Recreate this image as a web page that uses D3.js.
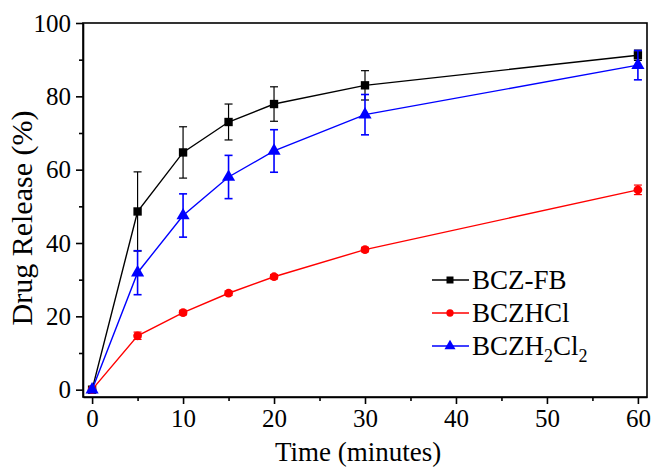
<!DOCTYPE html>
<html>
<head>
<meta charset="utf-8">
<script src="https://cdn.jsdelivr.net/npm/d3@7"></script>
<style>
  body { margin: 0; background: #fff; }
  text { font-family: "Liberation Serif", "Times New Roman", serif; fill: #000; }
</style>
</head>
<body>
<div class="chart"></div>
<script>
// time points (minutes)
const times = [0, 5, 10, 15, 20, 30, 60];

// drug release (%) and error (sd) for each formulation
const fbValues = [0, 48.6, 64.7, 73.0, 77.9, 83.0, 91.2];
const fbErrors = [0, 10.8, 7.0, 4.9, 4.7, 4.0, 1.4];
const hclValues = [0, 14.7, 21.0, 26.3, 30.8, 38.2, 54.5];
const hclErrors = [0, 1.0, 0.6, 0.6, 0.6, 0.6, 1.3];
const h2cl2Values = [0, 31.9, 47.5, 58.0, 65.1, 75.0, 88.5];
const h2cl2Errors = [0, 6.0, 5.9, 5.9, 5.8, 5.5, 4.0];

const xTicks = [0, 10, 20, 30, 40, 50, 60];
const yTicks = [0, 20, 40, 60, 80, 100];

const width = 653, height = 467;
const margin = { top: 23, right: 6, bottom: 70, left: 83 };
const plotW = width - margin.left - margin.right;
const plotH = height - margin.top - margin.bottom;

const svg = d3.select(".chart").append("svg")
    .attr("width", width)
    .attr("height", height);

const g = svg.append("g")
    .attr("transform", `translate(${margin.left}, ${margin.top})`);

const xScale = d3.scaleLinear().domain([-1, 61]).range([0, plotW]);
const yScale = d3.scaleLinear().domain([-2, 100]).range([plotH, 0]);

// x axis, outward ticks with minors
g.append("g")
    .attr("transform", `translate(0, ${plotH})`)
    .call(d3.axisBottom(xScale).tickValues(xTicks).tickSize(7).tickPadding(5).tickSizeOuter(0));
g.append("g")
    .attr("transform", `translate(0, ${plotH})`)
    .call(d3.axisBottom(xScale).tickValues(d3.range(5, 60, 10)).tickSize(4).tickFormat("").tickSizeOuter(0))
    .select(".domain").remove();

g.append("g")
    .call(d3.axisLeft(yScale).tickValues(yTicks).tickSize(7).tickPadding(5).tickSizeOuter(0));
g.append("g")
    .call(d3.axisLeft(yScale).tickValues(d3.range(10, 100, 20)).tickSize(4).tickFormat("").tickSizeOuter(0))
    .select(".domain").remove();

g.selectAll(".tick text")
    .style("font-family", "'Liberation Serif', serif")
    .style("font-size", "25px");
g.selectAll(".domain, .tick line").attr("stroke", "#000").attr("stroke-width", 1.6);

// frame (top + right)
g.append("rect")
    .attr("width", plotW).attr("height", plotH)
    .attr("fill", "none").attr("stroke", "#000").attr("stroke-width", 1.6);

// axis titles
svg.append("text")
    .attr("transform", `translate(358, 461)`)
    .attr("text-anchor", "middle")
    .style("font-size", "27px")
    .text("Time (minutes)");

svg.append("text")
    .attr("transform", `translate(32, 218) rotate(-90)`)
    .attr("text-anchor", "middle")
    .style("font-size", "30px")
    .text("Drug Release (%)");

const series = [
    { name: "fb", values: fbValues, errors: fbErrors, color: "#000", shape: d3.symbolSquare, size: 70, ew: 1.2 },
    { name: "hcl", values: hclValues, errors: hclErrors, color: "#ff0000", shape: d3.symbolCircle, size: 60, ew: 1.2 },
    { name: "h2cl2", values: h2cl2Values, errors: h2cl2Errors, color: "#0000ff", shape: d3.symbolTriangle, size: 75, ew: 1.6 }
];

const line = d3.line()
    .x(d => xScale(d[0]))
    .y(d => yScale(d[1]));

series.forEach(s => {
    const pts = times.map((t, i) => [t, s.values[i], s.errors[i]]);
    const sg = g.append("g").attr("class", s.name);

    sg.append("path")
        .datum(pts)
        .attr("fill", "none")
        .attr("stroke", s.color)
        .attr("stroke-width", 1.4)
        .attr("d", line);

    // error bars
    const eb = sg.selectAll(".err")
        .data(pts.filter(d => d[2] > 0))
        .enter().append("g")
        .attr("stroke", s.color)
        .attr("stroke-width", s.ew);
    eb.append("line")
        .attr("x1", d => xScale(d[0])).attr("x2", d => xScale(d[0]))
        .attr("y1", d => yScale(d[1] - d[2])).attr("y2", d => yScale(d[1] + d[2]));
    eb.append("line")
        .attr("x1", d => xScale(d[0]) - 4).attr("x2", d => xScale(d[0]) + 4)
        .attr("y1", d => yScale(d[1] + d[2])).attr("y2", d => yScale(d[1] + d[2]));
    eb.append("line")
        .attr("x1", d => xScale(d[0]) - 4).attr("x2", d => xScale(d[0]) + 4)
        .attr("y1", d => yScale(d[1] - d[2])).attr("y2", d => yScale(d[1] - d[2]));

    sg.selectAll(".dot")
        .data(pts)
        .enter().append("path")
        .attr("class", "dot")
        .attr("transform", d => `translate(${xScale(d[0])}, ${yScale(d[1])})`)
        .attr("d", d3.symbol().type(s.shape).size(s.size))
        .attr("fill", s.color);
});

// legend
const legendLabels = ["BCZ-FB", "BCZHCl", "BCZH2Cl2"];
const legend = svg.append("g").attr("transform", "translate(432, 280)");
series.forEach((s, i) => {
    const row = legend.append("g").attr("transform", `translate(0, ${i * 33})`);
    row.append("line").attr("x1", 0).attr("x2", 37).attr("stroke", s.color).attr("stroke-width", 1.4);
    row.append("path")
        .attr("transform", "translate(18, 0)")
        .attr("d", d3.symbol().type(s.shape).size(s.size * 0.7))
        .attr("fill", s.color);
    const t = row.append("text").attr("x", 40).attr("y", 9).style("font-size", "27px");
    if (legendLabels[i] === "BCZH2Cl2") {
        t.append("tspan").text("BCZH");
        t.append("tspan").attr("dy", 7).style("font-size", "18px").text("2");
        t.append("tspan").attr("dy", -7).text("Cl");
        t.append("tspan").attr("dy", 7).style("font-size", "18px").text("2");
    } else {
        t.text(legendLabels[i]);
    }
});
</script>
</body>
</html>
